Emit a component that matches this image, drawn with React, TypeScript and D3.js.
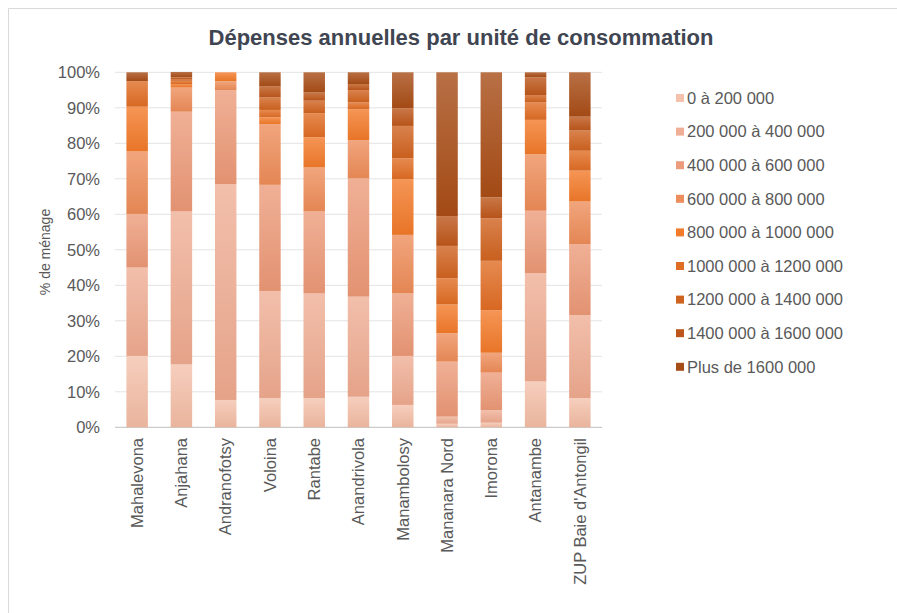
import React from "react";
import * as d3 from "d3";

const categories = [
  "Mahalevona", "Anjahana", "Andranofotsy", "Voloina", "Rantabe", "Anandrivola",
  "Manambolosy", "Mananara Nord", "Imorona", "Antanambe", "ZUP Baie d'Antongil",
];

const seriesNames = [
  "0 à 200 000", "200 000 à 400 000", "400 000 à 600 000", "600 000 à 800 000",
  "800 000 à 1000 000", "1000 000 à 1200 000", "1200 000 à 1400 000",
  "1400 000 à 1600 000", "Plus de 1600 000",
];

const s1 = [20.1, 17.7, 7.7, 8.2, 8.2, 8.6, 6.3, 1.0, 1.3, 12.9, 8.2];
const s2 = [24.9, 43.1, 60.8, 30.2, 29.5, 28.2, 13.8, 2.0, 3.5, 30.5, 23.4];
const s3 = [15.1, 28.1, 26.5, 29.9, 23.1, 33.3, 17.6, 15.5, 10.6, 17.6, 20.0];
const s4 = [17.6, 6.8, 2.5, 17.1, 12.4, 10.8, 16.5, 8.0, 5.6, 15.9, 12.0];
const s5 = [12.6, 1.0, 2.5, 1.9, 8.5, 8.7, 15.7, 8.1, 12.0, 9.7, 8.7];
const s6 = [7.2, 0.9, 0, 2.1, 6.8, 1.9, 5.9, 7.4, 13.9, 4.9, 5.6];
const s7 = [0, 0.5, 0, 3.5, 3.5, 3.5, 9.1, 9.1, 12.0, 2.1, 5.7];
const s8 = [0, 0.5, 0, 3.1, 2.3, 1.7, 5.0, 8.4, 5.9, 5.0, 3.9];
const s9 = [2.5, 1.5, 0, 4.0, 5.7, 3.3, 10.1, 40.5, 35.2, 1.4, 12.5];

const seriesValues = [s1, s2, s3, s4, s5, s6, s7, s8, s9];

const colors = [
  "#F4C2AC", "#EFAF96", "#EC9C7C", "#EE8E5C", "#F27B2B",
  "#E06D24", "#CF6320", "#BC561A", "#A64C16",
];

const yTicks = [0, 10, 20, 30, 40, 50, 60, 70, 80, 90, 100];

const title = "Dépenses annuelles par unité de consommation";
const yTitle = "% de ménage";

export default function App() {
  const W = 897, H = 613;
  const left = 115, right = 602, top = 72.3, bottom = 427.3;
  const font = "'Liberation Sans', Arial, sans-serif";

  const x = d3.scaleBand<string>().domain(categories).range([left, right]).paddingInner(0.515).paddingOuter(0.2575);
  const y = d3.scaleLinear().domain([0, 100]).range([bottom, top]);

  const table = categories.map((c, i) => {
    const row: any = { cat: c };
    seriesNames.forEach((s, j) => (row[s] = seriesValues[j][i]));
    return row;
  });
  const stacked = d3.stack<any>().keys(seriesNames)(table);

  return (
    <svg width={W} height={H} style={{ position: "absolute", left: 0, top: 0, background: "#fff" }}>
      <defs>
        {colors.map((c, i) => {
          const lighter = d3.interpolateRgb(c, "#ffffff")(0.2);
          const darker = d3.interpolateRgb(c, "#8a3a10")(0.1);
          return (
            <linearGradient key={i} id={`g${i}`} x1="0" y1="0" x2="0" y2="1">
              <stop offset="0%" stopColor={lighter} />
              <stop offset="100%" stopColor={darker} />
            </linearGradient>
          );
        })}
      </defs>
      <rect x={0} y={0} width={W} height={H} fill="#fff" />
      <line x1={8.5} x2={W} y1={8.5} y2={8.5} stroke="#D9D9D9" />
      <line x1={8.5} x2={8.5} y1={8.5} y2={H} stroke="#D9D9D9" />

      <text x={461} y={45} textAnchor="middle" fontFamily={font} fontWeight="bold" fontSize={22} fill="#404552">
        {title}
      </text>

      {yTicks.map((t) => (
        <g key={t}>
          <line x1={left} x2={right} y1={y(t)} y2={y(t)} stroke={t === 0 ? "#BFBFBF" : "#E3E3E3"} strokeWidth={1} />
          <text x={100} y={y(t)} dy="0.35em" textAnchor="end" fontFamily={font} fontSize={16.5} fill="#595959">
            {t}%
          </text>
        </g>
      ))}

      <text transform={`translate(45,252) rotate(-90)`} textAnchor="middle" dy="0.35em" fontFamily={font} fontSize={14} fill="#595959">
        {yTitle}
      </text>

      {stacked.map((layer, j) => (
        <g key={j} fill={`url(#g${j})`}>
          {layer.map((d, i) => (
            d[1] - d[0] > 0 ? (
              <rect key={i} x={x(categories[i])} width={x.bandwidth()} y={y(d[1])} height={y(d[0]) - y(d[1])} />
            ) : null
          ))}
        </g>
      ))}

      {categories.map((c) => (
        <text key={c} transform={`translate(${(x(c) as number) + x.bandwidth() / 2},438) rotate(-90)`} textAnchor="end" dy="0.35em" fontFamily={font} fontSize={16.5} fill="#595959">
          {c}
        </text>
      ))}

      {seriesNames.map((s, i) => (
        <g key={s} transform={`translate(676,${98 + i * 33.6})`}>
          <rect x={0} y={-4} width={8} height={8} fill={colors[i]} />
          <text x={11} y={0} dy="0.35em" fontFamily={font} fontSize={16.5} fill="#595959">
            {s}
          </text>
        </g>
      ))}
    </svg>
  );
}
